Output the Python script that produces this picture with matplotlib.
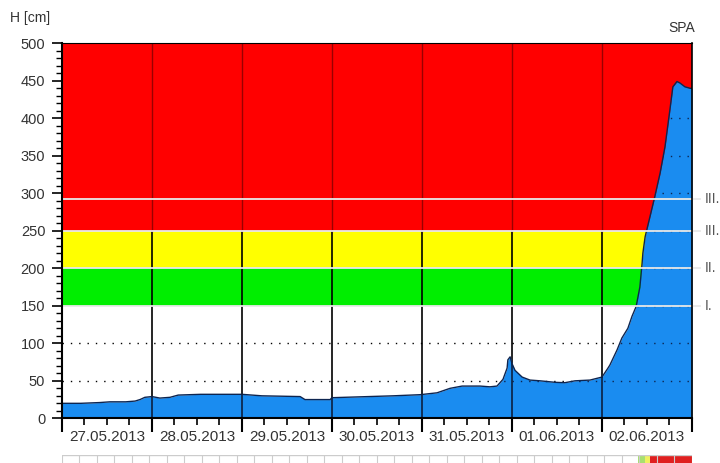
import matplotlib
matplotlib.use("Agg")
import matplotlib.pyplot as plt
import numpy as np

# ---- data ----
hours = [0, 5, 10, 12.8, 17, 19.5, 20.8, 22.1, 24, 26.1, 28.8, 31, 37, 48, 53.3, 63.5,
         64.8, 71.5, 72, 88.3, 95.5, 100, 103.5, 106.7, 111.5, 114.1, 116, 117.6, 118.7,
         118.9, 119.5, 120, 120.8, 122.7, 124.8, 127.5, 131.5, 134.1, 136.8, 140.8, 144,
         145.6, 146.1, 148, 149.3, 150.9, 152, 153.1, 154.1, 154.7, 154.9, 155.5, 156.8,
         158.1, 159.5, 160.8, 162.1, 162.9, 164, 164.8, 166.1, 167.5, 168]
level = [20, 20, 21, 22, 22, 23, 25, 28, 29, 27, 28, 31, 32, 32, 30, 29,
         25, 25, 27.5, 30, 31.5, 34, 40, 43, 43, 42, 43, 52, 67,
         78, 82, 73, 64, 55, 51, 50, 48, 47.5, 50, 51, 55,
         67, 71, 91, 107, 120, 136, 149, 175, 207, 220, 242, 269,
         296, 327, 362, 411, 442, 449, 447, 442, 440, 440]
day_labels = ["27.05.2013", "28.05.2013", "29.05.2013", "30.05.2013",
              "31.05.2013", "01.06.2013", "02.06.2013"]
bands = [(150, 200, "#00ee00"), (200, 250, "#ffff00"), (250, 500, "#ff0000")]
level_lines = [150, 200, 250, 292]
level_names = ["I.", "II.", "III.", "III."]
y_ticks = [0, 50, 100, 150, 200, 250, 300, 350, 400, 450, 500]

plt.rcParams['font.family'] = ['Liberation Sans', 'DejaVu Sans']
fig = plt.figure(figsize=(7.2, 4.63), dpi=100)
ax = fig.add_axes([0.0861, 0.0965, 0.875, 0.8100])
ax.set_xlim(0, 168)
ax.set_ylim(0, 500)

for lo, hi, c in bands:
    ax.axhspan(lo, hi, color=c, zorder=1, lw=0)

# day separators
for d in range(24, 168, 24):
    ax.plot([d, d], [0, 250], color="black", lw=1.2, zorder=2)
    ax.plot([d, d], [250, 500], color="#9a0000", lw=1.0, zorder=2)

# dotted grid in white area
for y in [50, 100]:
    ax.axhline(y, color="black", lw=1.0, ls=(0, (1, 5)), zorder=2)

poly = ax.fill_between(hours, level, 0, color="#1a8cf0", lw=0, zorder=3)
ax.plot(hours, level, color="#0d2550", lw=1.0, zorder=4)

# dotted grid visible inside fill
clip_path = poly.get_paths()[0]
for y in [50, 100, 150, 200, 250, 300, 350, 400, 450]:
    ln = ax.axhline(y, color="#0d2550", lw=1.0, ls=(0, (1, 5)), zorder=4)
    ln.set_clip_path(clip_path, ax.transData)

# day separators over fill
for d in range(24, 168, 24):
    ln = ax.plot([d, d], [0, 500], color="#0b1f40", lw=1.2, zorder=5)[0]
    ln.set_clip_path(clip_path, ax.transData)

# warning level lines
for y, name in zip(level_lines, level_names):
    ax.plot([0, 170.2], [y, y], color="#e8e8e8", lw=1.3, zorder=6, clip_on=False)
    ax.text(171.5, y, name, ha="left", va="center", fontsize=10, color="#555555")

ax.set_yticks(y_ticks)
ax.set_yticks(np.arange(0, 501, 10), minor=True)
ax.set_xticks(range(0, 169, 24))
ax.set_xticks(range(0, 169, 6), minor=True)
ax.set_xticklabels([])
ax.tick_params(axis="y", which="major", length=7, width=1.2, labelsize=10.5,
               labelcolor="#333333", pad=5)
ax.tick_params(axis="y", which="minor", length=4, width=1.0)
ax.tick_params(axis="x", which="major", length=10, width=1.5)
ax.tick_params(axis="x", which="minor", length=5, width=1.2)
for s in ax.spines.values():
    s.set_color("black")
    s.set_zorder(7)
ax.spines["left"].set_linewidth(1.5)
ax.spines["bottom"].set_linewidth(1.5)
ax.spines["top"].set_linewidth(0.8)
ax.spines["right"].set_linewidth(1.2)

for i, lab in enumerate(day_labels):
    ax.text(12 + 24 * i, -25, lab, ha="center", va="center", fontsize=11,
            color="#333333", clip_on=False)

fig.text(10 / 720, 1 - 18 / 463, "H [cm]", ha="left", va="center", fontsize=10,
         color="#333333")
fig.text(695 / 720, 1 - 28 / 463, "SPA", ha="right", va="center", fontsize=10,
         color="#333333")

# bottom strip (cut off)
ax2 = fig.add_axes([0.0861, 0.0, 0.875, 0.017])
ax2.set_xlim(0, 36)
ax2.set_ylim(0, 1)
ax2.axis("off")
ax2.plot([0, 36], [1, 1], color="#cccccc", lw=1)
ax2.vlines(range(0, 37), 0, 1, color="#cccccc", lw=0.8)
ax2.axvspan(32.9, 33.3, color="#a8e070", lw=0)
ax2.axvspan(33.3, 33.6, color="#f0f060", lw=0)
ax2.axvspan(33.6, 36, color="#e02020", lw=0)

fig.savefig("out.png", dpi=100)
